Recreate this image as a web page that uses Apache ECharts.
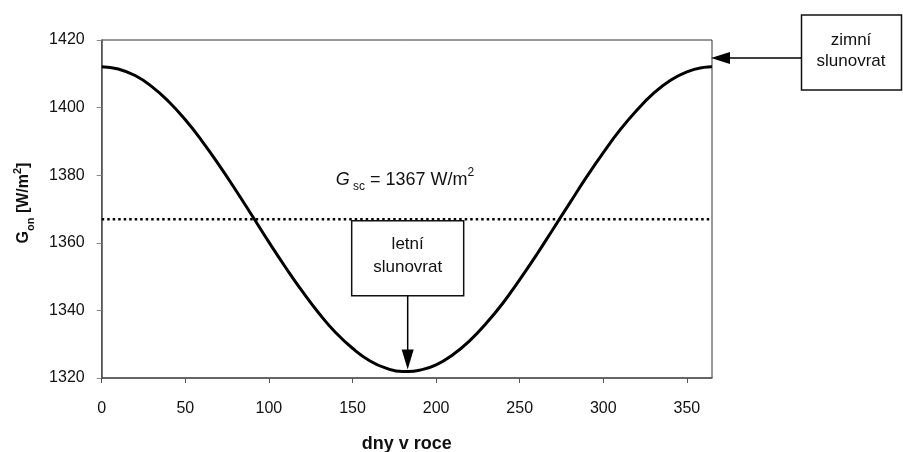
<!DOCTYPE html>
<html><head><meta charset="utf-8">
<script src="https://cdn.jsdelivr.net/npm/echarts/dist/echarts.min.js"></script>
<style>html,body{margin:0;padding:0;background:#fff}#c{width:903px;height:452px}</style>
</head><body><div id="c"></div>
<script>
// ---- data ----
const days = [0,10,20,30,40,50,60,70,80,90,100,110,120,130,140,150,160,170,180,183,190,200,210,220,230,240,250,260,270,280,290,300,310,320,330,340,350,360,365];
const irradiance = [1412.1,1411.4,1409.5,1406.2,1401.8,1396.4,1390.1,1383.1,1375.7,1368.0,1360.2,1352.7,1345.6,1339.1,1333.4,1328.8,1325.2,1322.9,1321.9,1321.9,1322.3,1323.9,1326.9,1331.0,1336.2,1342.2,1349.1,1356.4,1364.1,1371.8,1379.5,1386.7,1393.4,1399.2,1404.2,1408.0,1410.6,1411.9,1412.1];
const solarConstant = 1367;
const solarConstantLine = [[0, solarConstant], [365, solarConstant]];
const xTickLabels = [0,50,100,150,200,250,300,350];
const yTickLabels = [1320,1340,1360,1380,1400,1420];
const summerSolsticeDay = 183;
const summerSolsticeValue = 1321.9;

const FONT = 'Liberation Sans, Arial, sans-serif';
const chart = echarts.init(document.getElementById('c'), null, {renderer:'canvas'});
const curve = days.map((d,i)=>[d, irradiance[i]]);

chart.setOption({
  animation:false,
  backgroundColor:'#fff',
  grid:{left:101.7, right:191, top:40, bottom:74, show:true, borderColor:'#333', borderWidth:1,
    containLabel:false, outerBoundsMode:'none'},
  xAxis:{type:'value', min:0, max:365, interval:50,
    axisLine:{show:true, lineStyle:{color:'#555', width:1.5}},
    axisTick:{show:true, length:5, inside:false, lineStyle:{color:'#555'}},
    splitLine:{show:false},
    axisLabel:{margin:23, color:'#111', fontSize:16, fontFamily:FONT,
      formatter:v=> xTickLabels.includes(v) ? String(v) : '', showMaxLabel:false},
    name:'dny v roce', nameLocation:'middle', nameGap:57,
    nameTextStyle:{fontSize:18, fontWeight:'bold', color:'#111', fontFamily:FONT}
  },
  yAxis:{type:'value', min:1320, max:1420, interval:20,
    axisLine:{show:true, lineStyle:{color:'#555', width:1.5}},
    axisTick:{show:true, length:5, lineStyle:{color:'#888'}},
    splitLine:{show:false},
    axisLabel:{margin:17, color:'#111', fontSize:16, fontFamily:FONT,
      formatter:v=> yTickLabels.includes(v) ? String(v) : ''}
  },
  series:[
    {type:'line', data:solarConstantLine, showSymbol:false, symbol:'none',
      lineStyle:{color:'#000', width:2.5, type:[2.5,3]}, z:2},
    {type:'line', data:curve, smooth:true, showSymbol:false, symbol:'none',
      lineStyle:{color:'#000', width:3}, z:3}
  ]
});

function px(x,y){ return chart.convertToPixel({xAxisIndex:0,yAxisIndex:0},[x,y]); }
const tip = px(summerSolsticeDay, summerSolsticeValue);
const lineTop = px(0, solarConstant);
const boxW = 112, boxH = 75;
const boxX = tip[0]-boxW/2, boxY = lineTop[1]+1.5;
const rightEdge = px(365, 1420)[0];

const rich = {
  g:{fontSize:16, fontWeight:'bold', fontFamily:FONT, fill:'#111', lineHeight:24},
  s:{fontSize:11, fontWeight:'bold', fontFamily:FONT, fill:'#111', verticalAlign:'bottom'},
  p:{fontSize:11, fontWeight:'bold', fontFamily:FONT, fill:'#111', verticalAlign:'top'}
};
const rich2 = {
  g:{fontSize:18, fontStyle:'italic', fontFamily:FONT, fill:'#111', lineHeight:26},
  t:{fontSize:18, fontFamily:FONT, fill:'#111', lineHeight:26},
  s:{fontSize:12, fontFamily:FONT, fill:'#111', verticalAlign:'bottom'},
  p:{fontSize:12, fontFamily:FONT, fill:'#111', verticalAlign:'top'}
};

chart.setOption({graphic:[
  // y-axis title
  {type:'text', x:24, y:203, rotation:Math.PI/2,
    style:{text:'{g|G}{s|on}{g| [W/m}{p|2}{g|]}', rich:rich, align:'center', verticalAlign:'middle'}},
  // G_sc label
  {type:'text', x:405, y:180,
    style:{text:'{g|G}{s| sc}{t| = '+solarConstant+' W/m}{p|2}', rich:rich2, align:'center', verticalAlign:'middle'}},
  // summer solstice box
  {type:'rect', shape:{x:boxX, y:boxY, width:boxW, height:boxH},
    style:{fill:'#fff', stroke:'#111', lineWidth:1.5}, z:10},
  {type:'text', x:tip[0], y:boxY+boxH/2-2, z:11,
    style:{text:'letní\nslunovrat', font:'17px '+FONT, fill:'#111', align:'center', verticalAlign:'middle', lineHeight:23}},
  {type:'line', shape:{x1:tip[0], y1:boxY+boxH, x2:tip[0], y2:tip[1]-18}, style:{stroke:'#000', lineWidth:1.5}, z:10},
  {type:'polygon', shape:{points:[[tip[0]-6, tip[1]-22],[tip[0]+6, tip[1]-22],[tip[0], tip[1]-2]]}, style:{fill:'#000'}, z:10},
  // winter solstice box
  {type:'rect', shape:{x:801.5, y:15, width:100, height:75},
    style:{fill:'#fff', stroke:'#111', lineWidth:1.5}, z:10},
  {type:'text', x:851, y:50.5, z:11,
    style:{text:'zimní\nslunovrat', font:'17px '+FONT, fill:'#111', align:'center', verticalAlign:'middle', lineHeight:21}},
  {type:'line', shape:{x1:801.5, y1:58, x2:rightEdge+16, y2:58}, style:{stroke:'#000', lineWidth:1.5}, z:10},
  {type:'polygon', shape:{points:[[rightEdge+18, 52],[rightEdge+18, 64],[rightEdge-1, 58]]}, style:{fill:'#000'}, z:10}
]});
</script></body></html>
